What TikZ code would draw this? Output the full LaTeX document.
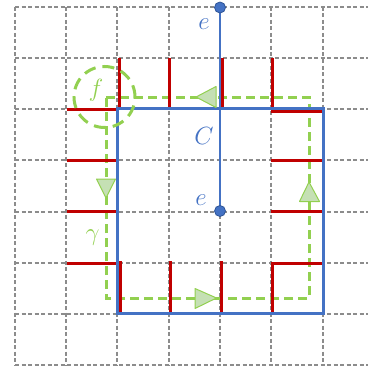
\documentclass[tikz,border=0pt]{standalone}
\definecolor{bl}{HTML}{4472C4}
\definecolor{bldark}{HTML}{2F5597}
\definecolor{rd}{HTML}{C00000}
\definecolor{gr}{HTML}{92D050}
\definecolor{grfill}{HTML}{C5E0B4}
\definecolor{gridgray}{HTML}{8C8C8C}
\begin{document}
\begin{tikzpicture}[x=1pt,y=-1pt,
 gridline/.style={draw=gridgray, dash pattern=on 4pt off 2.5pt, line width=1.1pt},
 blueline/.style={draw=bl,line width=3pt},
 redline/.style={draw=rd,line width=3pt},
 gammaline/.style={draw=gr,line width=3pt,dash pattern=on 9pt off 5pt},
 tri/.style={draw=gr,fill=grfill,line width=1pt,line join=round},
 dot/.style={fill=bl,draw=bldark,line width=0.8pt},
 lbl/.style={font=\fontsize{27}{30}\selectfont, inner sep=0pt}]
\useasboundingbox (0,0) rectangle (368,369);
% grid
\foreach \x in {15,66,117,169,220,271,323} \draw[gridline] (\x,7) -- (\x,365);
\foreach \y in {7,58,109,160,212,263,314,365} \draw[gridline] (15,\y) -- (368,\y);
% gamma loop
\coordinate (g1) at (106,97);
\coordinate (g2) at (309,97);
\coordinate (g3) at (309,298);
\coordinate (g4) at (106,298);
\draw[gammaline] (g1) -- (g2) -- (g3) -- (g4) -- cycle;
% red dual edges
\draw[redline] (119,58) -- (119,109);
\draw[redline] (169,58) -- (169,109);
\draw[redline] (222,58) -- (222,109);
\draw[redline] (272,58) -- (272,111) -- (322,111);
\draw[redline] (271,160.5) -- (322,160.5);
\draw[redline] (271,211) -- (322,211);
\draw[redline] (272,313) -- (272,263) -- (322,263);
\draw[redline] (221,261) -- (221,313);
\draw[redline] (170,261) -- (170,313);
\draw[redline] (120.5,261) -- (120.5,313);
\draw[redline] (67,263) -- (117,263);
\draw[redline] (67,211) -- (117,211);
\draw[redline] (67,160.5) -- (117,160.5);
\draw[redline] (67,109) -- (117,109);
% blue curve C
\coordinate (c1) at (117,108.5);
\coordinate (c2) at (323,108.5);
\coordinate (c3) at (323,313);
\coordinate (c4) at (117,313);
\draw[blueline,line join=miter] (c1) -- (c2) -- (c3) -- (c4) -- cycle;
% edge e
\coordinate (e1) at (220,7.5);
\coordinate (e2) at (220,211);
\draw[draw=bl,line width=2.6pt] (e1) -- (e2);
\draw[dot] (e1) circle (5.5pt);
\draw[dot] (e2) circle (5.5pt);
% face f
\draw[draw=gr,line width=3pt,dash pattern=on 12pt off 7pt] (104.5,97) circle (30.5pt);
% arrowheads
\draw[tri] (196,97) -- (216,86.5) -- (216,107.5) -- cycle;
\draw[tri] (106,198) -- (96.5,179) -- (115.5,179) -- cycle;
\draw[tri] (216.5,298) -- (195,288.5) -- (195,308.5) -- cycle;
\draw[tri] (309,182) -- (299.5,201.5) -- (319.5,201.5) -- cycle;
% labels
\node[lbl,text=bl] (etop) at (204,24) {$e$};
\node[lbl,text=bl] (ebot) at (201,200) {$e$};
\node[lbl,text=bl] (clab) at (204,136) {$C$};
\node[lbl,text=gr] (flab) at (96,90) {$f$};
\node[lbl,text=gr] (glab) at (92.5,238) {$\gamma$};
\end{tikzpicture}
\end{document}
